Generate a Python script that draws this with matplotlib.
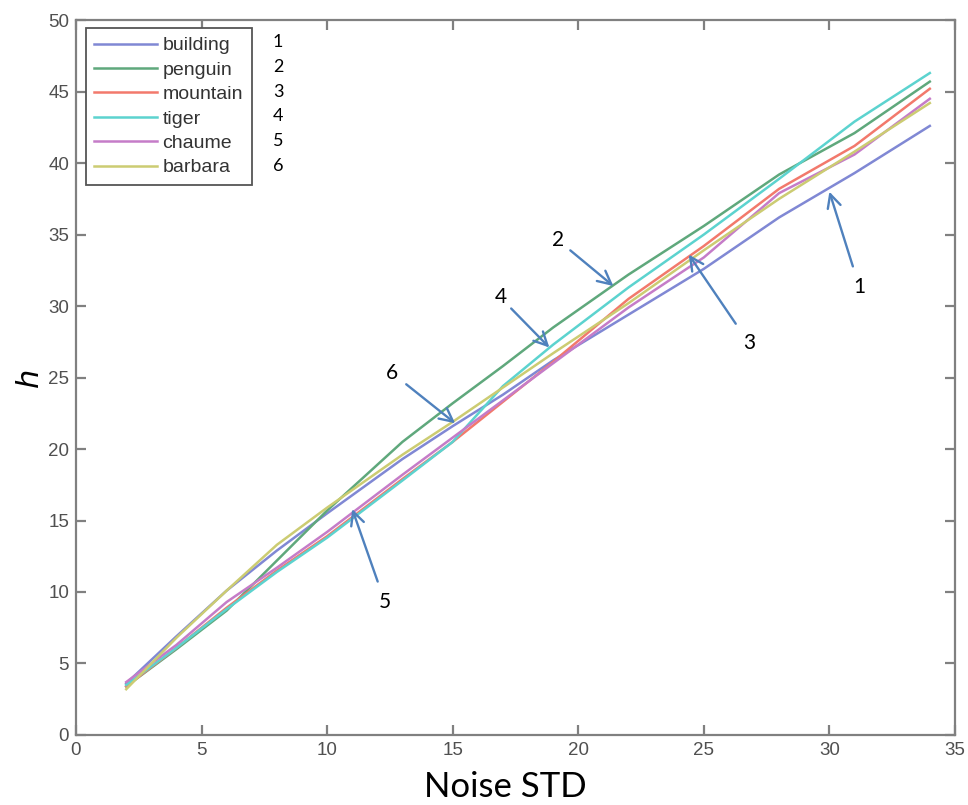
import matplotlib
matplotlib.use('Agg')
import matplotlib.pyplot as plt

# 数据
noise_std = [2, 4, 6, 8, 10, 13, 15, 17, 19, 22, 25, 28, 31, 34]
building = [3.6, 6.9, 10.1, 12.9, 15.5, 19.3, 21.6, 23.8, 26.2, 29.4, 32.6, 36.2, 39.3, 42.6]
penguin = [3.4, 6.0, 8.7, 12.2, 15.7, 20.5, 23.2, 25.8, 28.5, 32.2, 35.6, 39.2, 42.1, 45.7]
mountain = [3.4, 6.1, 8.9, 11.5, 13.9, 17.9, 20.5, 23.3, 26.1, 30.5, 34.2, 38.2, 41.2, 45.2]
tiger = [3.5, 6.1, 8.8, 11.4, 13.8, 17.8, 20.5, 24.4, 27.3, 31.3, 35.0, 38.9, 42.9, 46.3]
chaume = [3.7, 6.3, 9.3, 11.7, 14.2, 18.2, 20.8, 23.4, 26.0, 29.9, 33.4, 37.9, 40.6, 44.5]
barbara = [3.2, 6.8, 10.1, 13.3, 15.9, 19.6, 21.9, 24.3, 26.7, 30.2, 33.9, 37.5, 40.8, 44.2]

names = ['building', 'penguin', 'mountain', 'tiger', 'chaume', 'barbara']
series = [building, penguin, mountain, tiger, chaume, barbara]
colors = ['#8088d4', '#5fa87c', '#f2796c', '#5cd3cf', '#c57cc8', '#cccc72']

# 箭头标注: (文字, 文字位置, 箭头指向)
labels = ['1', '2', '3', '4', '5', '6']
label_xy = [(31.2, 31.3), (19.2, 34.6), (26.8, 27.4), (16.9, 30.6), (12.3, 9.3), (12.6, 25.3)]
arrow_tip = [(30.0, 38.0), (21.4, 31.4), (24.4, 33.6), (18.85, 27.1), (11.0, 15.8), (15.1, 21.8)]

fig = plt.figure(figsize=(9.68, 8.05), dpi=100)
ax = fig.add_axes([0.0785, 0.087, 0.908, 0.888])

for name, ys, c in zip(names, series, colors):
    ax.plot(noise_std, ys, color=c, linewidth=1.8, label=name)

ax.set_xlim(0, 35)
ax.set_ylim(0, 50)
ax.set_xticks(range(0, 36, 5))
ax.set_yticks(range(0, 51, 5))

for s in ax.spines.values():
    s.set_color('#808080')
    s.set_linewidth(1.6)
ax.tick_params(direction='in', top=True, right=True, length=7, width=1.6,
               color='#808080', labelcolor='#505050', labelsize=13.5, pad=5)
for t in ax.get_xticklabels() + ax.get_yticklabels():
    t.set_family('Liberation Sans')

ax.set_xlabel('Noise STD', fontsize=25, family='Lato', labelpad=9)
ax.xaxis.label.set_x(0.489)
ax.set_ylabel('h', fontsize=22, family='DejaVu Sans', style='italic', labelpad=3)

leg = ax.legend(loc='upper left', bbox_to_anchor=(0.011, 0.989), borderaxespad=0,
                fancybox=False, edgecolor='#555555', framealpha=1,
                handlelength=3.2, handletextpad=0.3, labelspacing=0.35,
                borderpad=0.45, prop={'family': 'Liberation Sans', 'size': 14})
leg.get_frame().set_linewidth(1.3)
for t in leg.get_texts():
    t.set_color('#333333')

# 图例旁的编号
for i, lab in enumerate(labels):
    ax.text(0.224, 0.969 - i * 0.0345, lab, transform=ax.transAxes,
            fontsize=13, family='Lato', ha='left', va='center')

# 箭头和编号
for lab, xy_text, xy_tip in zip(labels, label_xy, arrow_tip):
    ax.text(xy_text[0], xy_text[1], lab, fontsize=15, family='Lato',
            ha='center', va='center')
    dx = xy_tip[0] - xy_text[0]
    dy = xy_tip[1] - xy_text[1]
    start = (xy_text[0] + dx * 0.22, xy_text[1] + dy * 0.22)
    ax.annotate('', xy=xy_tip, xytext=start,
                arrowprops=dict(arrowstyle='->', color='#4f81bd', lw=1.7,
                                mutation_scale=24, shrinkA=0, shrinkB=0))

plt.savefig('out.png', dpi=100)
